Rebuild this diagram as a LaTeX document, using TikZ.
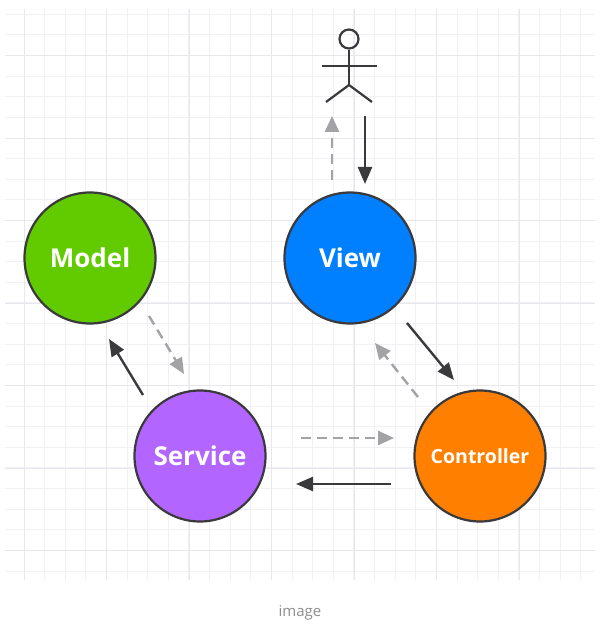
\documentclass[tikz,border=0pt]{standalone}
\usepackage{fontspec}
\setmainfont{Open Sans}
\usetikzlibrary{arrows.meta}
\definecolor{gridminor}{HTML}{F1F0F4}
\definecolor{gridmajor}{HTML}{E8E7EB}
\definecolor{inkdark}{HTML}{3A3A3C}
\definecolor{inkgray}{HTML}{A3A3A5}
\definecolor{cmodel}{HTML}{62CB00}
\definecolor{cview}{HTML}{007FFF}
\definecolor{cservice}{HTML}{B266FF}
\definecolor{ccontroller}{HTML}{FF8000}
\definecolor{ccaption}{HTML}{8E8E8E}
\tikzset{
  x=1pt,y=-1pt,
  circ/.style={circle,draw=inkdark,line width=2.2pt,minimum size=131pt,inner sep=0pt,text=white,font=\fontsize{26}{28}\selectfont\bfseries},
  solidarrow/.style={draw=inkdark,line width=2.4pt,-{Triangle[length=17pt,width=14pt]}},
  dasharrow/.style={draw=inkgray,line width=2.4pt,dash pattern=on 10pt off 6pt,-{Triangle[length=16pt,width=14pt]}},
  stick/.style={draw=inkdark,line width=2.2pt},
  gridline/.style={line width=1.4pt},
}
\begin{document}
\begin{tikzpicture}
\useasboundingbox (0,0) rectangle (601,631);
\fill[white] (0,0) rectangle (601,631);
\foreach \i in {0,...,28}{
  \pgfmathsetmacro{\gx}{round(23.5+20.62*\i)+0.5}
  \draw[gridminor,gridline] (\gx,9) -- (\gx,580);
}
\foreach \j in {0,...,27}{
  \pgfmathsetmacro{\gy}{round(13.8+20.62*\j)+0.5}
  \draw[gridminor,gridline] (5,\gy) -- (595,\gy);
}
\foreach \i in {0,...,6}{
  \pgfmathsetmacro{\gx}{round(23.5+82.5*\i)+0.5}
  \draw[gridmajor,gridline] (\gx,9) -- (\gx,580);
}
\foreach \j in {0,...,6}{
  \pgfmathsetmacro{\gy}{round(55+82.5*\j)+0.5}
  \draw[gridmajor,gridline] (5,\gy) -- (595,\gy);
}
\node[circ,fill=cmodel] (model) at (90,258) {Model};
\node[circ,fill=cview] (view) at (350,258) {View};
\node[circ,fill=cservice] (service) at (200,456) {Service};
\node[circ,fill=ccontroller,font=\fontsize{19.5}{22}\selectfont\bfseries] (controller) at (480,456) {Controller};
% actor
\node[circle,stick,minimum size=19pt,inner sep=0pt] (head) at (349,39) {};
\coordinate (hip) at (349,85);
\coordinate (armL) at (322,66);
\coordinate (armR) at (377,66);
\coordinate (legL) at (326,102);
\coordinate (legR) at (372,102);
\draw[stick] (head) -- (hip);
\draw[stick] (armL) -- (armR);
\draw[stick] (legL) -- (hip) -- (legR);
% connector ends
\coordinate (a1) at (332,180); \coordinate (a2) at (332,116);
\coordinate (b1) at (365,116); \coordinate (b2) at (365,184);
\coordinate (c1) at (149,316); \coordinate (c2) at (184,374);
\coordinate (d1) at (143,395); \coordinate (d2) at (109,339);
\coordinate (e1) at (407,323); \coordinate (e2) at (454,380);
\coordinate (f1) at (418,397); \coordinate (f2) at (375,343);
\coordinate (g1) at (301,438); \coordinate (g2) at (394,438);
\coordinate (h1) at (391,484); \coordinate (h2) at (296,484);
\draw[dasharrow] (a1) -- (a2);
\draw[solidarrow] (b1) -- (b2);
\draw[dasharrow] (c1) -- (c2);
\draw[solidarrow] (d1) -- (d2);
\draw[solidarrow] (e1) -- (e2);
\draw[dasharrow] (f1) -- (f2);
\draw[dasharrow] (g1) -- (g2);
\draw[solidarrow] (h1) -- (h2);
\node[text=ccaption,font=\fontsize{15}{17}\selectfont] (caption) at (300,613) {image};
\end{tikzpicture}
\end{document}
